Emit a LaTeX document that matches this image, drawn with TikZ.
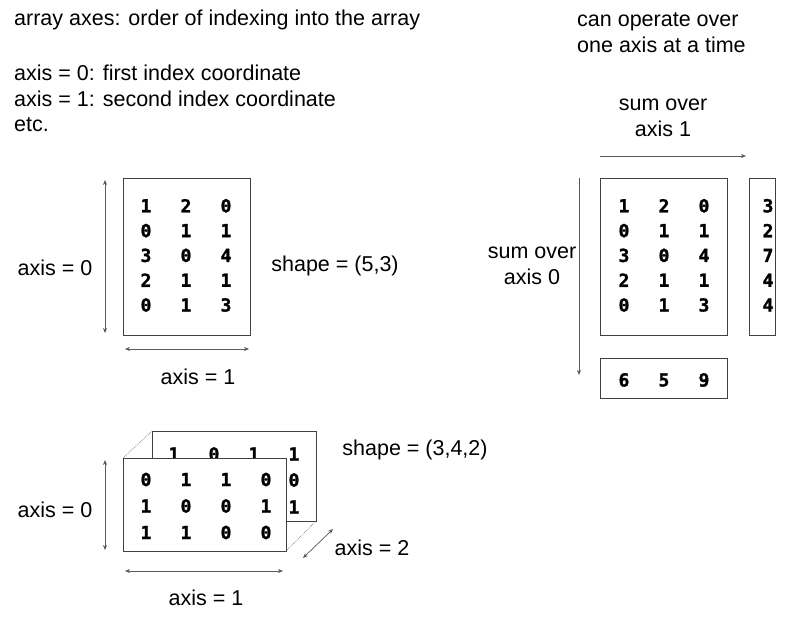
\documentclass[tikz,border=0pt]{standalone}
\usepackage{fontspec}
\setmainfont{Liberation Sans}
\newfontfamily\monob{DejaVu Sans Mono}[FakeBold=1.5]
\usetikzlibrary{arrows.meta}
\begin{document}
\begin{tikzpicture}[x=1pt,y=-1pt,
  txt/.style={font=\fontsize{21.5}{26}\selectfont,inner sep=0pt},
  num/.style={font=\fontsize{18}{18}\monob\bfseries,inner sep=0pt},
  box/.style={draw=black!75,line width=0.8pt,fill=white},
  ax/.style={draw=black!65,line width=0.7pt,{Stealth[length=5pt,width=4pt]}-{Stealth[length=5pt,width=4pt]}},
  ar/.style={draw=black!65,line width=0.7pt,-{Stealth[length=5pt,width=4pt]}}]
\useasboundingbox (0,0) rectangle (800,620);
% top text
\node[txt,anchor=west] (t1) at (14,20) {array axes: order of indexing into the array};
\node[txt,anchor=west] (t2) at (14,73) {axis = 0: first index coordinate};
\node[txt,anchor=west] (t3) at (14,99) {axis = 1: second index coordinate};
\node[txt,anchor=west] (t4) at (14,125) {etc.};
\node[txt,anchor=west,align=left] (t5) at (577,33) {can operate over\\one axis at a time};
% 2D matrix
\draw[box] (123,178) rectangle (250,335);
\foreach \r [count=\i] in {{1,2,0},{0,1,1},{3,0,4},{2,1,1},{0,1,3}}{
  \foreach \v [count=\j] in \r {
    \node[num] (m\i\j) at ({106+40*\j},{181+24.8*\i}) {\v};}}
\coordinate (a0t) at (105,180); \coordinate (a0b) at (105,333);
\draw[ax] (a0t) -- (a0b);
\coordinate (a1l) at (125,349); \coordinate (a1r) at (249,349);
\draw[ax] (a1l) -- (a1r);
\node[txt] (l0) at (55,268) {axis = 0};
\node[txt] (l1) at (198,377) {axis = 1};
\node[txt] (s1) at (335,266) {shape = (5,3)};
% right sums
\draw[box] (600,178) rectangle (727,335);
\foreach \r [count=\i] in {{1,2,0},{0,1,1},{3,0,4},{2,1,1},{0,1,3}}{
  \foreach \v [count=\j] in \r {
    \node[num] (r\i\j) at ({584+40*\j},{181+24.8*\i}) {\v};}}
\draw[box] (749,178) rectangle (775,335);
\foreach \v [count=\i] in {3,2,7,4,4}{\node[num] (c\i) at (768,{181+24.8*\i}) {\v};}
\draw[box] (600,358) rectangle (727,398);
\foreach \v [count=\j] in {6,5,9}{\node[num] (b\j) at ({584+40*\j},380) {\v};}
\coordinate (h1) at (600,156); \coordinate (h2) at (746,156);
\draw[ar] (h1) -- (h2);
\coordinate (v1) at (579,178); \coordinate (v2) at (579,375);
\draw[ar] (v1) -- (v2);
\node[txt,align=center] (so1) at (663,118) {sum over\\axis 1};
\node[txt,align=center] (so0) at (532,266) {sum over\\axis 0};
% 3D array
\draw[box] (152,431) rectangle (316,521);
\foreach \v [count=\j] in {1,0,1,1}{\node[num] (k\j) at ({134+40*\j},454) {\v};}
\node[num] (k5) at (294,480) {0};
\node[num] (k6) at (294,507) {1};
\draw[black!50,densely dotted,line width=0.7pt] (123,458) -- (152,431);
\draw[black!50,densely dotted,line width=0.7pt] (286,551) -- (316,521);
\draw[box] (123,458) rectangle (286,551);
\foreach \r [count=\i] in {{0,1,1,0},{1,0,0,1},{1,1,0,0}}{
  \foreach \v [count=\j] in \r {
    \node[num] (f\i\j) at ({106+40*\j},{453+26.5*\i}) {\v};}}
\coordinate (b0t) at (105,460); \coordinate (b0b) at (105,550);
\draw[ax] (b0t) -- (b0b);
\coordinate (b1l) at (125,571); \coordinate (b1r) at (283,571);
\draw[ax] (b1l) -- (b1r);
\coordinate (b2a) at (303,558); \coordinate (b2b) at (333,529);
\draw[ax] (b2a) -- (b2b);
\node[txt] (m0) at (55,510) {axis = 0};
\node[txt] (m1) at (206,598) {axis = 1};
\node[txt] (m2) at (372,548) {axis = 2};
\node[txt] (s2) at (415,450) {shape = (3,4,2)};
\end{tikzpicture}
\end{document}
